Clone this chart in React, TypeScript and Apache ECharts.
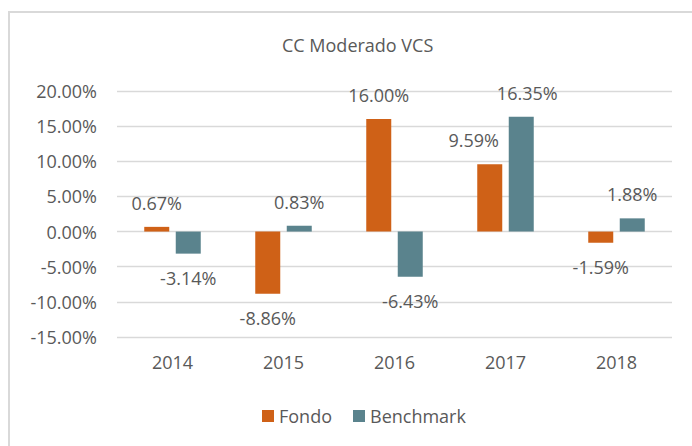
import React, { useEffect, useRef } from "react";
import * as echarts from "echarts";

const categories = ["2014", "2015", "2016", "2017", "2018"];
const fondo = [0.67, -8.86, 16.0, 9.59, -1.59];
const benchmark = [-3.14, 0.83, -6.43, 16.35, 1.88];
const seriesNames = ["Fondo", "Benchmark"];
const titleText = "CC Moderado VCS";

const FONT = "'Open Sans', sans-serif";
const TEXT = "#595959";

export default function App() {
  const ref = useRef<HTMLDivElement>(null);
  useEffect(() => {
    if (!ref.current) return;
    const chart = echarts.init(ref.current, null, { renderer: "svg" });
    const fmt = (v: number) => v.toFixed(2) + "%";
    const mk = (vals: number[], offsets: Record<number, number[]>) =>
      vals.map((v, i) => ({
        value: v,
        label: {
          position: v >= 0 ? "top" : "bottom",
          offset: offsets[i] || [0, 0],
        },
      }));
    const labelCommon = {
      show: true,
      distance: 15,
      color: TEXT,
      fontFamily: FONT,
      fontSize: 18,
      formatter: (p: any) => fmt(p.value),
    };
    chart.setOption({
      animation: false,
      backgroundColor: "#ffffff",
      title: {
        text: titleText,
        left: 277,
        top: 31,
        textStyle: { color: TEXT, fontFamily: FONT, fontSize: 18, fontWeight: "normal" },
      },
      graphic: [
        {
          type: "rect",
          shape: { x: 9, y: 12, width: 800, height: 600 },
          style: { fill: "none", stroke: "#d9d9d9", lineWidth: 2 },
          silent: true,
        },
      ],
      legend: {
        data: seriesNames,
        left: 257,
        top: 402,
        icon: "rect",
        itemWidth: 12,
        itemHeight: 12,
        itemGap: 21,
        textStyle: { color: TEXT, fontFamily: FONT, fontSize: 18 },
      },
      grid: { left: 117, right: 20, top: 91, bottom: 109, containLabel: false },
      xAxis: {
        type: "category",
        data: categories,
        axisLine: { show: false },
        axisTick: { show: false },
        axisLabel: { color: TEXT, fontFamily: FONT, fontSize: 18, margin: 16 },
      },
      yAxis: {
        type: "value",
        min: -15,
        max: 20,
        interval: 5,
        axisLine: { show: false },
        axisTick: { show: false },
        splitLine: { lineStyle: { color: "#d9d9d9", width: 1.3 } },
        axisLabel: {
          color: TEXT,
          fontFamily: FONT,
          fontSize: 18,
          margin: 20,
          formatter: (v: number) => fmt(v),
        },
      },
      series: [
        {
          name: seriesNames[0],
          type: "bar",
          barWidth: 25,
          barGap: "26%",
          itemStyle: { color: "#CF6117" },
          label: labelCommon,
          data: mk(fondo, { 3: [-16, 0] }),
        },
        {
          name: seriesNames[1],
          type: "bar",
          barWidth: 25,
          barGap: "26%",
          itemStyle: { color: "#5A838D" },
          label: labelCommon,
          data: mk(benchmark, { 3: [6, 0] }),
        },
      ],
    });
    return () => chart.dispose();
  }, []);
  return (
    <div
      ref={ref}
      style={{ position: "fixed", left: 0, top: 0, width: 692, height: 446 }}
    />
  );
}
